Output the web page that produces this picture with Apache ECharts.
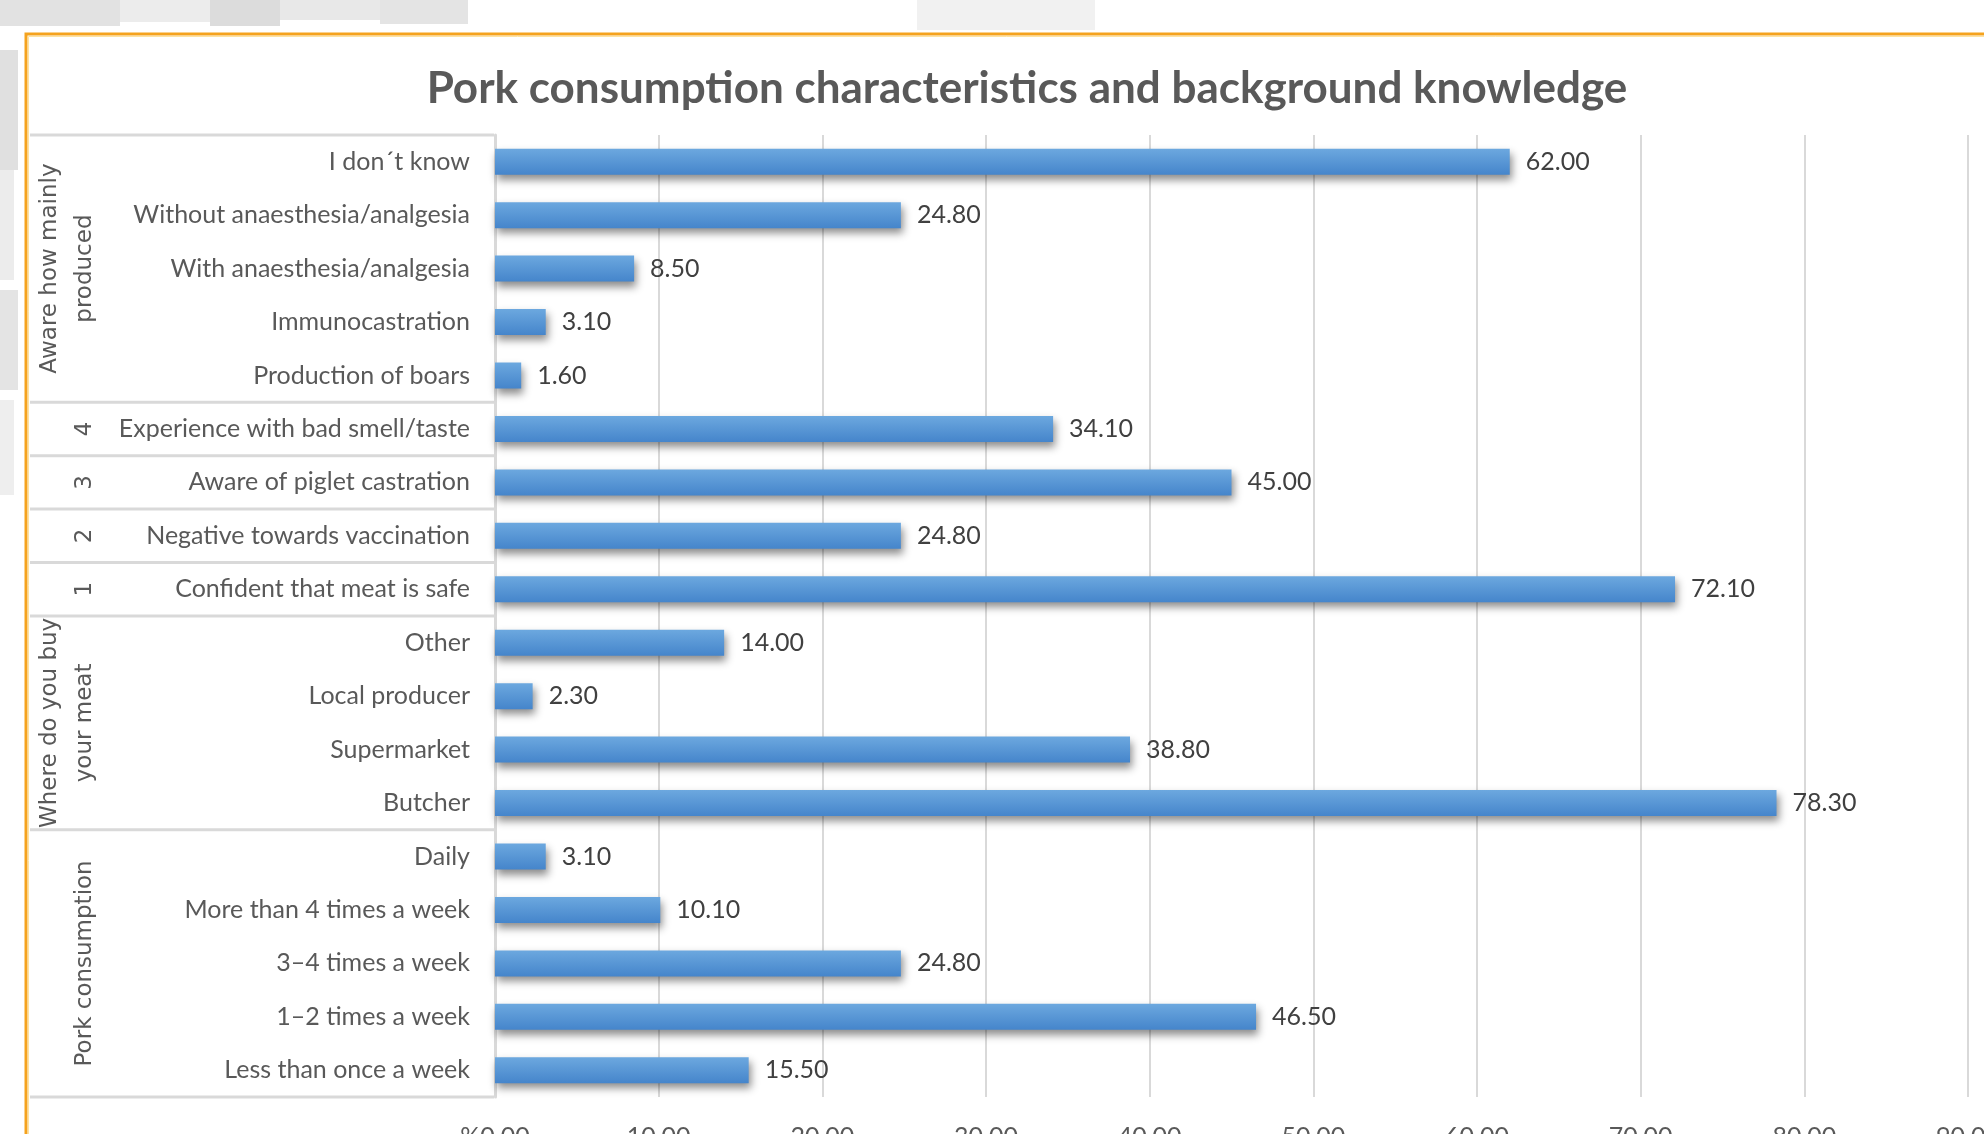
<!DOCTYPE html>
<html><head><meta charset="utf-8">
<script src="https://cdn.jsdelivr.net/npm/echarts@6/dist/echarts.min.js"></script>
<style>html,body{margin:0;padding:0;background:#fff;overflow:hidden}#c{width:1984px;height:1134px}</style>
</head><body><div id="c"></div>
<script>
const titleText = 'Pork consumption characteristics and background knowledge';
const categories = [
  'I don´t know', 'Without anaesthesia/analgesia', 'With anaesthesia/analgesia', 'Immunocastration', 'Production of boars',
  'Experience with bad smell/taste', 'Aware of piglet castration', 'Negative towards vaccination', 'Confident that meat is safe',
  'Other', 'Local producer', 'Supermarket', 'Butcher',
  'Daily', 'More than 4 times a week', '3–4 times a week', '1–2 times a week', 'Less than once a week'
];
const values = [62.00, 24.80, 8.50, 3.10, 1.60, 34.10, 45.00, 24.80, 72.10, 14.00, 2.30, 38.80, 78.30, 3.10, 10.10, 24.80, 46.50, 15.50];
const groupNames = ['Aware how mainly\nproduced', '4', '3', '2', '1', 'Where do you buy\nyour meat', 'Pork consumption'];
const groupSizes = [5, 1, 1, 1, 1, 4, 5];
const xTickLabels = ['%0.00', '10.00', '20.00', '30.00', '40.00', '50.00', '60.00', '70.00', '80.00', '90.00'];

const FONT = 'Lato, "Open Sans", sans-serif';
const chart = echarts.init(document.getElementById('c'), null, {renderer: 'canvas'});
const option = {
  backgroundColor: '#ffffff',
  animation: false,
  title: {
    text: titleText, left: 1022, top: 62, textAlign: 'center',
    textStyle: {fontFamily: FONT, fontWeight: 'bold', fontSize: 44, color: '#595959'}
  },
  grid: {left: 495, right: 16, top: 135, bottom: 37, containLabel: false, outerBoundsMode: 'none'},
  xAxis: {
    type: 'value', min: 0, max: 90, interval: 10,
    axisLine: {show: false}, axisTick: {show: false},
    splitLine: {show: true, lineStyle: {color: '#d9d9d9', width: 2}},
    axisLabel: {
      margin: 27, color: '#595959', fontFamily: FONT, fontSize: 25, showMaxLabel: true,
      formatter: v => xTickLabels[Math.round(v / 10)]
    }
  },
  yAxis: {
    type: 'category', data: categories, inverse: true,
    axisLine: {show: true, lineStyle: {color: '#d9d9d9', width: 3}},
    axisTick: {show: false},
    axisLabel: {margin: 25, color: '#595959', fontFamily: FONT, fontSize: 25}
  },
  series: [{
    type: 'bar', data: values, barWidth: 26,
    itemStyle: {
      color: new echarts.graphic.LinearGradient(0, 0, 0, 1, [
        {offset: 0, color: '#6ca8df'}, {offset: 1, color: '#4585cb'}
      ]),
      shadowColor: 'rgba(0,0,0,0.45)', shadowBlur: 8, shadowOffsetX: 2, shadowOffsetY: 5
    },
    label: {
      show: true, position: 'right', distance: 16, color: '#404040',
      fontFamily: FONT, fontSize: 25, formatter: p => p.value.toFixed(2)
    }
  }]
};
chart.setOption(option);

(function () {
  const yPix = i => chart.convertToPixel({yAxisIndex: 0}, i);
  const band = yPix(1) - yPix(0);
  const tableLeft = 30, tableRight = 494;
  const elements = [];
  const deco = [
    [0, 0, 120, 26, '#e2e2e2'], [120, 0, 90, 22, '#ececec'], [210, 0, 70, 26, '#dcdcdc'], [280, 0, 100, 20, '#e8e8e8'],
    [380, 0, 88, 24, '#e4e4e4'], [917, 0, 178, 30, '#f1f1f1'], [0, 50, 18, 120, '#e0e0e0'], [0, 170, 14, 110, '#ececec'],
    [0, 290, 18, 100, '#e4e4e4'], [0, 400, 14, 95, '#eeeeee']
  ];
  deco.forEach(d => elements.push({type: 'rect', z: -10, shape: {x: d[0], y: d[1], width: d[2], height: d[3]}, style: {fill: d[4]}, silent: true}));
  elements.push({type: 'rect', z: 10, shape: {x: 26, y: 34, width: 2100, height: 1200}, style: {fill: null, stroke: '#f5a31e', lineWidth: 3}, silent: true});
  elements.push({type: 'rect', z: 10, shape: {x: 28.5, y: 36.5, width: 2100, height: 1200}, style: {fill: null, stroke: '#fde3a0', lineWidth: 1}, silent: true});
  const tTop = yPix(0) - band / 2;
  const tBottom = yPix(categories.length - 1) + band / 2;
  elements.push({type: 'line', shape: {x1: tableLeft, y1: tTop, x2: tableRight, y2: tTop}, style: {stroke: '#d9d9d9', lineWidth: 3}, silent: true});
  elements.push({type: 'line', shape: {x1: tableLeft, y1: tBottom, x2: tableRight, y2: tBottom}, style: {stroke: '#d9d9d9', lineWidth: 3}, silent: true});
  let idx = 0;
  groupNames.forEach((name, g) => {
    const first = idx, last = idx + groupSizes[g] - 1;
    const cy = (yPix(first) + yPix(last)) / 2;
    elements.push({
      type: 'text', x: 103, y: cy, rotation: Math.PI / 2, silent: true,
      style: {text: name, align: 'center', verticalAlign: 'bottom', font: '23px "DejaVu Sans", sans-serif', lineHeight: 35, fill: '#595959'}
    });
    if (g < groupNames.length - 1) {
      const by = yPix(last) + band / 2;
      elements.push({type: 'line', shape: {x1: tableLeft, y1: by, x2: tableRight, y2: by}, style: {stroke: '#d9d9d9', lineWidth: 3}, silent: true});
    }
    idx = last + 1;
  });
  chart.setOption({graphic: {elements}});
})();
</script>
</body></html>
